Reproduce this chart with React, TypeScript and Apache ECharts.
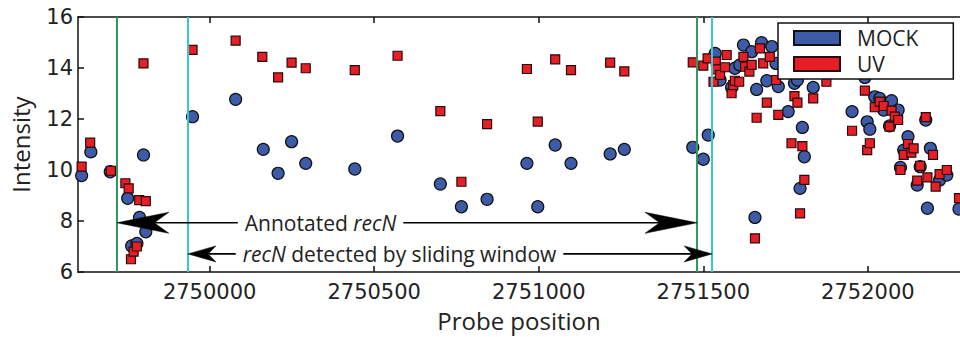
import React, { useEffect, useRef } from "react";
import * as echarts from "echarts";

const xTicks = [2750000, 2750500, 2751000, 2751500, 2752000];
const yTicks = [6, 8, 10, 12, 14, 16];

const mockPoints: [number, number][] = [
  [2749611, 9.78], [2749639, 10.71], [2749698, 9.93], [2749751, 8.89], [2749763, 7.02],
  [2749779, 7.12], [2749787, 8.14], [2749799, 10.59], [2749806, 7.58], [2749948, 12.09],
  [2750079, 12.77], [2750163, 10.81], [2750208, 9.87], [2750249, 11.11], [2750292, 10.26],
  [2750441, 10.04], [2750571, 11.33], [2750701, 9.45], [2750765, 8.56], [2750843, 8.85],
  [2750964, 10.26], [2750997, 8.56], [2751050, 10.98], [2751098, 10.26], [2751217, 10.63],
  [2751260, 10.81], [2751468, 10.89], [2751500, 10.42], [2751515, 11.37], [2751536, 14.57],
  [2751551, 13.53], [2751586, 13.24], [2751596, 13.99], [2751611, 14.12], [2751622, 14.9],
  [2751647, 14.64], [2751657, 8.14], [2751662, 13.16], [2751677, 14.99], [2751693, 13.5],
  [2751708, 14.84], [2751721, 14.18], [2751728, 13.27], [2751758, 12.29], [2751777, 13.4],
  [2751786, 13.53], [2751794, 9.28], [2751801, 11.67], [2751807, 10.52], [2751834, 13.24],
  [2751952, 12.29], [2751991, 13.63], [2751998, 11.89], [2752006, 11.6], [2752021, 12.87],
  [2752036, 12.81], [2752048, 12.35], [2752066, 11.73], [2752072, 12.72], [2752092, 12.35],
  [2752099, 10.1], [2752109, 10.78], [2752122, 11.31], [2752150, 9.41], [2752159, 10.13],
  [2752176, 11.96], [2752181, 8.5], [2752190, 10.85], [2752218, 9.61], [2752240, 9.8],
  [2752277, 8.47],
];

const uvPoints: [number, number][] = [
  [2749611, 10.13], [2749637, 11.07], [2749700, 9.97], [2749744, 9.48], [2749754, 9.28],
  [2749761, 6.5], [2749769, 6.8], [2749779, 7.0], [2749786, 8.82], [2749799, 14.18],
  [2749806, 8.78], [2749948, 14.71], [2750079, 15.07], [2750160, 14.44], [2750208, 13.63],
  [2750249, 14.21], [2750292, 13.99], [2750441, 13.92], [2750571, 14.48], [2750701, 12.31],
  [2750765, 9.54], [2750843, 11.8], [2750964, 13.96], [2750997, 11.9], [2751050, 14.34],
  [2751098, 13.92], [2751217, 14.21], [2751260, 13.87], [2751468, 14.22], [2751500, 14.09],
  [2751513, 14.38], [2751531, 13.46], [2751538, 14.25], [2751540, 13.95], [2751551, 13.73],
  [2751566, 14.03], [2751571, 14.51], [2751586, 13.01], [2751591, 13.33], [2751596, 13.5],
  [2751609, 13.46], [2751622, 14.44], [2751627, 14.05], [2751640, 13.86], [2751647, 14.12],
  [2751657, 7.32], [2751662, 12.05], [2751672, 14.77], [2751682, 14.18], [2751693, 12.64],
  [2751702, 14.44], [2751721, 13.53], [2751728, 12.16], [2751768, 11.05], [2751777, 12.9],
  [2751786, 12.64], [2751794, 8.3], [2751801, 10.94], [2751807, 9.61], [2751834, 12.81],
  [2751874, 13.46], [2751952, 11.54], [2751991, 13.11], [2751998, 10.78], [2752006, 11.05],
  [2752021, 12.46], [2752036, 12.68], [2752048, 12.51], [2752066, 11.7], [2752072, 12.33],
  [2752082, 12.09], [2752092, 11.96], [2752099, 10.0], [2752109, 10.59], [2752122, 11.02],
  [2752132, 10.68], [2752139, 10.85], [2752150, 9.58], [2752159, 10.16], [2752176, 12.07],
  [2752181, 9.71], [2752198, 10.59], [2752206, 9.35], [2752218, 9.84], [2752240, 10.0],
  [2752277, 8.9],
];

const annotatedBounds = [2749718, 2751481];
const detectedBounds = [2749934, 2751527];
const annotatedArrowY = 7.93;
const detectedArrowY = 6.71;
const annotatedTextX = 2750337;
const detectedTextX = 2750577;

const TEXT = "#222";
const TICK_FONT = "DejaVu Sans";
const LABEL_FONT = "'Open Sans', 'DejaVu Sans', sans-serif";
const GREEN = "#2f9a5c";
const CYAN = "#3ec6cb";

function arrowSeries(bounds: number[], y: number, headLen: number, headWidth: number) {
  return {
    type: "custom",
    coordinateSystem: "cartesian2d",
    z: 5,
    silent: true,
    clip: false,
    encode: { x: [0, 1], y: 2 },
    data: [[bounds[0], bounds[1], y]],
    renderItem: (params: any, api: any) => {
      const p1 = api.coord([api.value(0), api.value(2)]);
      const p2 = api.coord([api.value(1), api.value(2)]);
      const cy = p1[1];
      const notch = headLen * 0.72;
      const style = { fill: "#000", stroke: "#000", lineWidth: 0.5 };
      return {
        type: "group",
        children: [
          {
            type: "line",
            shape: { x1: p1[0] + notch, y1: cy, x2: p2[0] - notch, y2: cy },
            style: { stroke: "#000", lineWidth: 1.6 },
          },
          {
            type: "polygon",
            shape: {
              points: [
                [p1[0], cy],
                [p1[0] + headLen, cy - headWidth / 2],
                [p1[0] + notch, cy],
                [p1[0] + headLen, cy + headWidth / 2],
              ],
            },
            style,
          },
          {
            type: "polygon",
            shape: {
              points: [
                [p2[0], cy],
                [p2[0] - headLen, cy - headWidth / 2],
                [p2[0] - notch, cy],
                [p2[0] - headLen, cy + headWidth / 2],
              ],
            },
            style,
          },
        ],
      };
    },
  };
}

export default function App() {
  const ref = useRef<HTMLDivElement>(null);
  useEffect(() => {
    if (!ref.current) return;
    document.body.style.margin = "0";
    const chart = echarts.init(ref.current, undefined, { renderer: "svg" });
    const xMin = 2749600;
    const xMax = 2752280;
    const axisLineStyle = { color: "#111", width: 1.5 };
    chart.setOption({
      animation: false,
      backgroundColor: "#fff",
      grid: { left: 77, top: 17, right: 0, bottom: 65 },
      legend: {
        orient: "vertical",
        left: 778,
        top: 23,
        padding: [3, 35, 3, 15],
        itemWidth: 46,
        itemHeight: 14,
        itemGap: 2,
        backgroundColor: "#fff",
        borderColor: "#111",
        borderWidth: 1.5,
        z: 10,
        textStyle: {
          fontFamily: LABEL_FONT,
          fontSize: 21,
          lineHeight: 24,
          color: TEXT,
          padding: [0, 0, 0, 12],
        },
        data: [
          { name: "MOCK", icon: "rect" },
          { name: "UV", icon: "rect" },
        ],
      },
      xAxis: [
        {
          type: "value",
          min: xMin,
          max: xMax,
          name: "Probe position",
          nameLocation: "middle",
          nameGap: 36,
          nameTextStyle: { fontFamily: LABEL_FONT, fontSize: 24, color: TEXT },
          axisLine: { lineStyle: axisLineStyle },
          axisTick: { inside: true, length: 6, customValues: xTicks, lineStyle: axisLineStyle },
          axisLabel: {
            customValues: xTicks,
            fontFamily: TICK_FONT,
            fontSize: 21,
            color: TEXT,
            margin: 9,
            formatter: (v: number) => String(v),
          },
          splitLine: { show: false },
        },
        {
          type: "value",
          position: "top",
          min: xMin,
          max: xMax,
          axisLine: { lineStyle: axisLineStyle },
          axisTick: { inside: true, length: 6, customValues: xTicks, lineStyle: axisLineStyle },
          axisLabel: { show: false },
          splitLine: { show: false },
        },
      ],
      yAxis: {
        type: "value",
        min: 6,
        max: 16,
        interval: 2,
        name: "Intensity",
        nameLocation: "middle",
        nameGap: 46,
        nameTextStyle: { fontFamily: LABEL_FONT, fontSize: 24, color: TEXT },
        axisLine: { lineStyle: axisLineStyle },
        axisTick: { inside: true, length: 6, lineStyle: axisLineStyle },
        axisLabel: { fontFamily: TICK_FONT, fontSize: 21, color: TEXT, margin: 5, customValues: yTicks },
        splitLine: { show: false },
      },
      series: [
        {
          name: "MOCK",
          type: "scatter",
          data: mockPoints,
          symbol: "circle",
          symbolSize: 12,
          z: 2,
          itemStyle: { color: "#3d5ba9", borderColor: "#111", borderWidth: 1.2, opacity: 1 },
        },
        {
          name: "UV",
          type: "scatter",
          data: uvPoints,
          symbol: "rect",
          symbolSize: 9,
          z: 3,
          itemStyle: { color: "#e61f27", borderColor: "#2a0a0a", borderWidth: 1.2, opacity: 1 },
        },
        {
          type: "line",
          data: [],
          z: 4,
          silent: true,
          markLine: {
            silent: true,
            animation: false,
            symbol: "none",
            label: { show: false },
            data: [
              { xAxis: annotatedBounds[0], lineStyle: { color: GREEN, width: 2, type: "solid" } },
              { xAxis: detectedBounds[0], lineStyle: { color: CYAN, width: 2, type: "solid" } },
              { xAxis: annotatedBounds[1], lineStyle: { color: GREEN, width: 2, type: "solid" } },
              { xAxis: detectedBounds[1], lineStyle: { color: CYAN, width: 2, type: "solid" } },
            ],
          },
        },
        arrowSeries(annotatedBounds, annotatedArrowY, 52, 21),
        arrowSeries(detectedBounds, detectedArrowY, 28, 16),
        {
          type: "scatter",
          data: [],
          z: 6,
          silent: true,
          markPoint: {
            silent: true,
            animation: false,
            symbol: "rect",
            symbolSize: 1,
            itemStyle: { color: "rgba(0,0,0,0)" },
            label: {
              show: true,
              position: "inside",
              backgroundColor: "#fff",
              padding: [0, 7],
              fontFamily: LABEL_FONT,
              fontSize: 21,
              color: TEXT,
              rich: {
                i: { fontFamily: LABEL_FONT, fontSize: 21, fontStyle: "italic", color: TEXT },
              },
            },
            data: [
              { coord: [annotatedTextX, annotatedArrowY], label: { formatter: "Annotated {i|recN}" } },
              { coord: [detectedTextX, detectedArrowY], label: { formatter: "{i|recN} detected by sliding window" } },
            ],
          },
        },
      ],
    });
    return () => chart.dispose();
  }, []);
  return (
    <div
      ref={ref}
      style={{ position: "absolute", left: 0, top: 0, width: 960, height: 337 }}
    />
  );
}
